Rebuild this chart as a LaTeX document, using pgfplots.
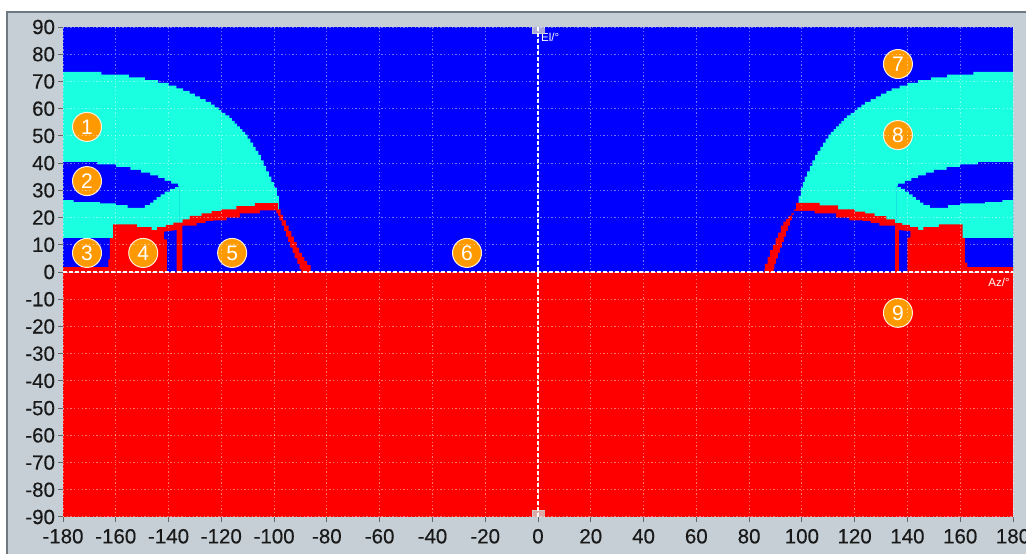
\documentclass[border=0pt]{standalone}
\usepackage{fontspec}
\setmainfont{Liberation Sans}
\newfontfamily\tickfont[FakeBold=0.3]{Liberation Sans}
\usepackage{pgfplots}
\usepackage{pgfplotstable}
\pgfplotsset{compat=1.18}
\definecolor{panel}{HTML}{C6CFD5}
\definecolor{panelborder}{HTML}{6E787E}
\definecolor{mblue}{HTML}{0000FF}
\definecolor{mcyan}{HTML}{1AFFE0}
\definecolor{mred}{HTML}{FF0000}
\definecolor{morange}{HTML}{FF9900}
\pgfplotstableread{
x y
-180 73.5
-165.5 72.5
-155 71.5
-149 70.5
-144 69.5
-140 68.5
-137 67.5
-134.5 66.5
-132 65.5
-130 64.5
-128 63.5
-126 62.5
-124 61.5
-122.5 60.5
-121 59.5
-120 58.5
-118.5 57.5
-117 56.5
-116 55.5
-115 54.5
-114 53.5
-113 52.5
-112 51.5
-111 50.5
-110 49
-109 47.5
-108 46
-107 44.5
-106 43
-105 41
-104 39
-103 37
-102 35
-101 33
-100 31
-99 28
-98.2 25
}\outerL
\pgfplotstableread{
x y
-180 40.4
-167 39.5
-160 38.5
-154.5 37.5
-150.5 36.5
-147 35.5
-144 34.5
-141.5 33.5
-139 32.5
-136.5 31.5
-136 31.5
}\holetopL
\pgfplotstableread{
x y
-180 26.4
-176 25.7
-166 25.2
-160 24.6
-155.5 23.6
-149 24.6
-147 25.5
-145.8 26.5
-144.5 27.5
-143 28.5
-141.5 29.5
-139.5 30.5
-137.5 31.2
-136 31.2
}\holebotL
\pgfplotstableread{
x y
-180 1.8
-162.8 4.6
-162.2 12.4
-161 17.5
-152 16.5
-146.4 15.4
-144.3 16.5
-141 17.3
-138.2 18.1
-134.7 19.3
-132 20.6
-127.5 21.5
-123.7 22.4
-120 23
-114.3 24.2
-107.3 25.3
-98.5 23
-97.5 21
-96.6 19
-95.5 17
-94.5 15
-93.5 13
-92.5 11
-91.5 9
-90.5 7
-89.5 5.5
-88.5 4
-87.5 2.5
-86.2 0
}\redL
\pgfplotstableread{
x y
-134.8 17
-129.4 18
-126 18.7
-123 19
-118 20
-113 21.5
-105.4 22.6
-99.1 21.5
-98.5 20.5
-98 19
-97.2 17
-96.3 15
-95.5 13
-94.7 11
-93.9 9
-93 7
-92.2 5
-91.2 3
-90.3 1
-89.7 0
}\innerL
\pgfplotstableread{
x y
180 73.5
165 72.5
155 71.5
149 70.5
144 69.5
140 68.5
137 67.5
134 66.5
132 65.5
130 64.5
128 63.5
126 62.5
124 61.5
122.5 60.5
121 59.5
120 58.5
118.5 57.5
117 56.5
116 55.5
115 54.5
114 53.5
113 52.5
112 51.5
111 50.5
110 49
109 47.5
108 46
107 44.5
106 43
105 41
104 39
103 37
102 35
101 33
100.4 31
99.6 28
98.8 25
}\outerR
\pgfplotstableread{
x y
180 40.4
166.8 39.5
160 38.5
154.8 37.5
150 36.5
147 35.5
144 34.5
141.5 33.5
139 32.5
136.5 31.5
136 31.5
}\holetopR
\pgfplotstableread{
x y
180 26.4
176 25.7
169.4 25.2
160 24.6
155.4 23.6
148.5 24.6
146 25.5
144.7 26.5
143.2 27.5
142 28.5
140.5 29.5
139 30.5
137.5 31.2
136 31.2
}\holebotR
\pgfplotstableread{
x y
180 1.8
162.7 3.4
161.8 12.4
160.9 17.5
151.9 16.5
146 15.4
144 16.5
140.9 17.3
138 18
135.2 19.3
132 20.5
127.6 21.5
124 22.2
120 23
113.7 24.5
106.7 25.4
97.8 23
97 21.5
96 20.5
95 19.5
94 18.5
93 17
92 14.5
91 12.5
90 10
89 8
88 5.5
87 3
86 1
85.8 0
}\redR
\pgfplotstableread{
x y
135.2 17
129.4 18
126 18.7
123 19
118 20
113 21.5
104.8 22.5
97.8 22.5
97 21
96.2 19
95.5 17
94.7 15
94 13
93.2 11
92.5 9
91.7 7
91 5
90.2 3
89.6 1
89.3 0
}\innerR
\pgfplotstableread{
x y label
-170.9 53.3 1
-170.9 33.4 2
-170.9 7 3
-149.6 7 4
-115.9 7 5
-26.9 7 6
136.4 76.4 7
136.4 50.3 8
136.4 -15 9
}\callouts
\begin{document}
\begin{tikzpicture}[x=1pt,y=1pt]
\fill[white] (-63pt,-37pt) rectangle (963pt,517pt);
\fill[panel,draw=panelborder,line width=1.4pt] (-56pt,-50pt) rectangle (980pt,505pt);
\begin{axis}[
  at={(0pt,0pt)},anchor=south west,
  scale only axis,width=950pt,height=490pt,
  xmin=-180,xmax=180,ymin=-90,ymax=90,
  xtick distance=20,ytick distance=10,
  set layers=axis on top,
  axis line style={draw=none},
  grid=major,
  major grid style={white,opacity=0.45,line width=1pt,dash pattern=on 1.3pt off 2.4pt},
  tick align=outside,
  xtick pos=bottom,ytick pos=left,
  major tick length=5pt,
  tick style={black!60,line width=1pt},
  tick label style={font=\tickfont\fontsize{20.5}{21}\selectfont,black!90},
  xticklabel style={yshift=-3.5pt},
  yticklabel style={xshift=0.5pt},
  /pgf/number format/assume math mode=true,
  /pgf/number format/1000 sep={},
]
\addplot[fill=mblue,draw=none] coordinates {(-180,-90)(180,-90)(180,90)(-180,90)} --cycle;
\addplot[fill=mred,draw=none] coordinates {(-180,-90)(180,-90)(180,0)(-180,0)} --cycle;
% left side
\addplot[const plot,fill=mcyan,draw=none] table {\outerL} \closedcycle;
\addplot[const plot,fill=mblue,draw=none] table {\holetopL} \closedcycle;
\addplot[const plot,fill=mcyan,draw=none] table {\holebotL} \closedcycle;
\addplot[fill=mblue,draw=none] coordinates {(-180,0)(-161,0)(-161,12.4)(-180,12.4)} --cycle;
\addplot[const plot,fill=mred,draw=none] table {\redL} \closedcycle;
\addplot[const plot,fill=mblue,draw=none] table {\innerL} \closedcycle;
\addplot[fill=mblue,draw=none] coordinates {(-141.7,14.8)(-136.9,15.4)(-136.9,0)(-140.5,0)(-140.5,12)(-141.7,12)} --cycle;
% right side
\addplot[const plot,fill=mcyan,draw=none] table {\outerR} \closedcycle;
\addplot[const plot,fill=mblue,draw=none] table {\holetopR} \closedcycle;
\addplot[const plot,fill=mcyan,draw=none] table {\holebotR} \closedcycle;
\addplot[fill=mblue,draw=none] coordinates {(180,0)(161,0)(161,12.4)(180,12.4)} --cycle;
\addplot[const plot,fill=mred,draw=none] table {\redR} \closedcycle;
\addplot[const plot,fill=mblue,draw=none] table {\innerR} \closedcycle;
\addplot[fill=mblue,draw=none] coordinates {(136.8,15.4)(141.1,15)(141.1,12.6)(140,12.6)(140,0)(136.8,0)} --cycle;
% end caps of the vertical axis
\addplot[on layer=axis foreground,only marks,mark=square*,mark size=3pt,
  mark options={xscale=2,draw=gray!35!white,fill=gray!35!white,opacity=0.8,line width=0pt}] coordinates {(0,88.7)(0,-88.7)};
% axes through the origin
\addplot[on layer=axis foreground,white,line width=1.2pt,dash pattern=on 4pt off 2pt] coordinates {(-180,0)(180,0)};
\addplot[on layer=axis foreground,white,line width=1.2pt,dash pattern=on 4pt off 2pt] coordinates {(0,-90)(0,90)};
% numbered callouts
\addplot[on layer=axis foreground,only marks,mark=*,mark size=14.5pt,
  mark options={fill=morange,draw=white!85!morange,line width=1pt},
  nodes near coords,point meta=explicit symbolic,
  every node near coord/.style={anchor=center,inner sep=0pt,text=white,font=\fontsize{21}{21}\selectfont}]
  table[meta=label] {\callouts};
\node[on layer=axis foreground,anchor=west,text=white,font=\fontsize{11.5}{12}\selectfont,inner sep=0pt] at (axis cs:1.1,86.3) {El/°};
\node[on layer=axis foreground,anchor=east,text=white,font=\fontsize{11.5}{12}\selectfont,inner sep=0pt] at (axis cs:178.8,-4) {Az/°};
\end{axis}
\pgfresetboundingbox
\path[use as bounding box] (-63pt,-37pt) rectangle (963pt,517pt);
\end{tikzpicture}
\end{document}
